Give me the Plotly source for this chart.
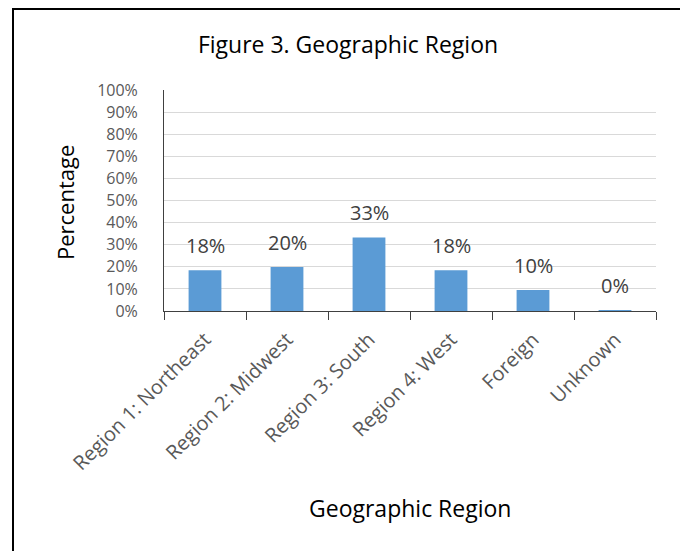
import plotly.graph_objects as go

categories = ["Region 1: Northeast", "Region 2: Midwest", "Region 3: South",
              "Region 4: West", "Foreign", "Unknown"]
values = [18.4, 19.9, 33.3, 18.4, 9.5, 0.4]
value_labels = ["18%", "20%", "33%", "18%", "10%", "0%"]
y_ticks = list(range(0, 101, 10))
y_tick_labels = [f"{v}%" for v in y_ticks]

# page body has an 8px margin; compensate so the picture lines up
O = 8
W, H = 688 - O, 551 - O
L, R, T, B = 164 - O, 32, 90 - O, 551 - 311
pw = W - L - R
ph = H - T - B

font_fam = "Open Sans, Noto Sans, sans-serif"


def sx(px):
    return (px - O - L) / pw


def sy(py):
    return (H - B - (py - O)) / ph


fig = go.Figure()
fig.add_trace(go.Bar(
    x=categories, y=values,
    marker=dict(color="#5b9bd5", line=dict(width=0)),
    hoverinfo="x+y",
))

annotations = [
    dict(x=c, y=v, xref="x", yref="y", text=t, showarrow=False,
         yanchor="bottom", yshift=9,
         font=dict(family=font_fam, size=20, color="#404040"))
    for c, v, t in zip(categories, values, value_labels)
]
annotations += [
    dict(text="Geographic Region", xref="paper", yref="paper",
         x=sx(410), y=sy(508), xanchor="center", yanchor="middle",
         showarrow=False,
         font=dict(family=font_fam, size=23, color="#000000")),
    dict(text="Percentage", xref="paper", yref="paper",
         x=sx(65), y=sy(203), xanchor="center", yanchor="middle",
         textangle=-90, showarrow=False,
         font=dict(family=font_fam, size=22, color="#000000")),
]

fig.update_layout(
    width=W, height=H,
    margin=dict(l=L, r=R, t=T, b=B, autoexpand=False),
    paper_bgcolor="white", plot_bgcolor="white",
    showlegend=False,
    bargap=0.6,
    title=dict(text="Figure 3. Geographic Region", x=sx(348), xref="paper",
               xanchor="center", y=1 - (45 - O) / H, yanchor="middle",
               font=dict(family=font_fam, size=23, color="#000000")),
    xaxis=dict(
        type="category",
        tickangle=-45,
        tickfont=dict(family=font_fam, size=20, color="#595959"),
        ticklabelstandoff=8,
        ticks="outside", tickson="boundaries", ticklen=8, tickcolor="#404040",
        showline=True, linecolor="#404040", linewidth=1,
        showgrid=False,
    ),
    yaxis=dict(
        range=[0, 100],
        tickvals=y_ticks, ticktext=y_tick_labels,
        tickfont=dict(family=font_fam, size=16, color="#595959"),
        ticklabelstandoff=22,
        showline=True, linecolor="#404040", linewidth=1,
        showgrid=True, gridcolor="#d9d9d9", gridwidth=1,
        zeroline=False, ticks="",
    ),
    annotations=annotations,
    shapes=[dict(
        type="rect", xref="paper", yref="paper",
        x0=sx(13), x1=sx(683),
        y0=sy(570), y1=1 + (T - 1) / ph,
        line=dict(color="#000000", width=2), fillcolor="rgba(0,0,0,0)",
        layer="below",
    )],
)

fig.write_html("out.html")
